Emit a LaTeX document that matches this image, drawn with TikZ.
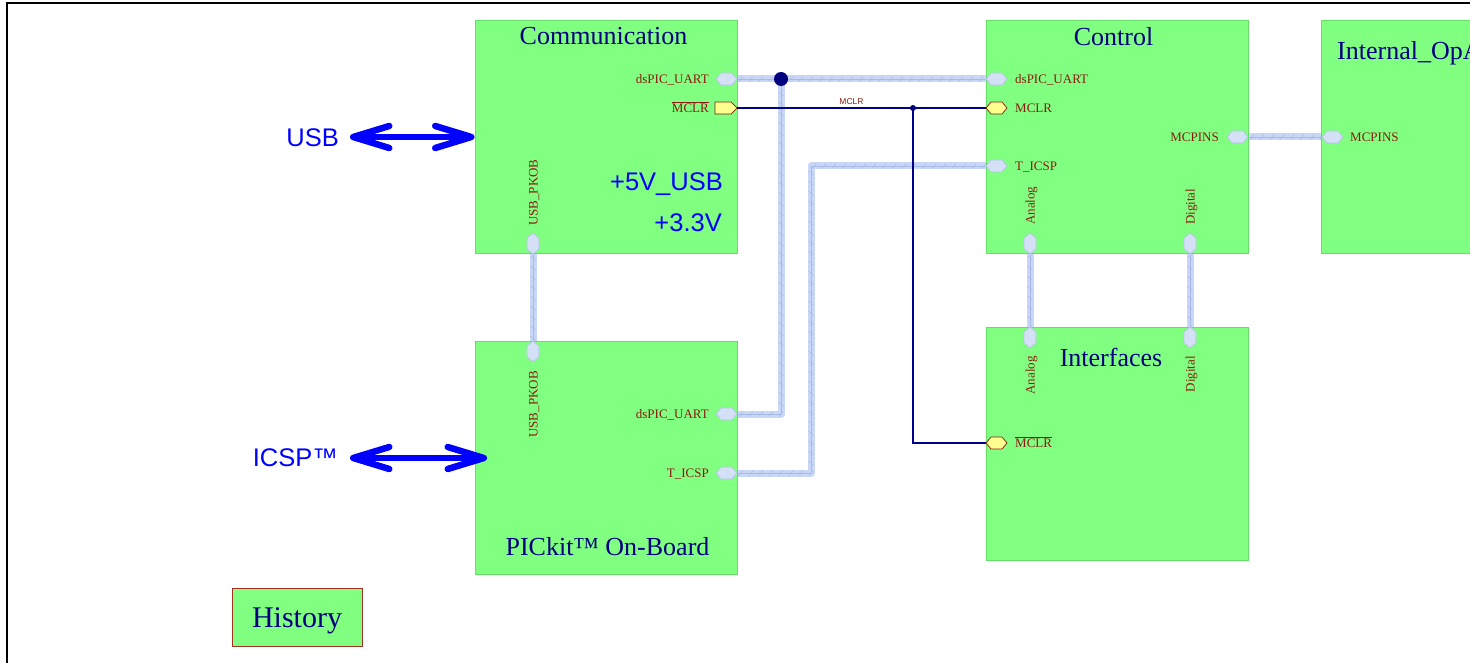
\documentclass[tikz,border=0pt]{standalone}
\usepackage{fontspec}
\setmainfont{Liberation Serif}
\newfontfamily\arial{Liberation Sans}
\usetikzlibrary{arrows.meta,decorations.markings,backgrounds}
\definecolor{boxfill}{HTML}{80FF80}
\definecolor{boxline}{HTML}{66DD66}
\definecolor{navy}{HTML}{00007F}
\definecolor{lblred}{HTML}{8B1A10}
\definecolor{busblue}{HTML}{C8D7F7}
\definecolor{hatchblue}{HTML}{A8BBE6}
\definecolor{portfill}{HTML}{D4E0F6}
\definecolor{portline}{HTML}{B4C4E4}
\definecolor{yelfill}{HTML}{FFFF90}
\definecolor{wirenavy}{HTML}{00008B}
\definecolor{sigblue}{HTML}{0000FF}
\definecolor{histline}{HTML}{A03020}
\tikzset{
  blk/.style={draw=boxline, line width=1pt, fill=boxfill, minimum width=262pt, minimum height=233pt, inner sep=0pt},
  ttl/.style={text=navy, font=\fontsize{26}{28}\selectfont, inner sep=0pt},
  plbl/.style={text=lblred, font=\fontsize{13}{14}\selectfont, inner sep=0pt},
  sigtxt/.style={text=sigblue, font=\arial\fontsize{25.5}{27}\selectfont, inner sep=0pt},
  portbox/.style={inner sep=0pt, outer sep=0pt},
  blueport/.style={draw=portline, fill=portfill, line width=0.7pt, line join=round},
  yelport/.style={draw=lblred, fill=yelfill, line width=0.7pt, line join=round},
  bus/.style={line width=7pt, draw=busblue, line join=round,
    postaction={decorate, decoration={markings,
      mark=between positions 4pt and 1 step 10pt with {\draw[hatchblue, line width=0.5pt] (-2pt,-2.5pt) -- (2pt,2.5pt);}}},
    postaction={draw=hatchblue, line width=0.4pt}},
  wire/.style={draw=wirenavy, line width=1.2pt},
  biarrow/.style={draw=sigblue, line width=6.5pt,
    {Straight Barb[length=36pt, width=22pt, line cap=round, line join=round]}-{Straight Barb[length=36pt, width=22pt, line cap=round, line join=round]}}
}
% horizontal hexagon port: name, position, style
\newcommand\hexporth[3]{%
  \node[portbox, minimum width=21pt, minimum height=12pt] (#1) at (#2) {};
  \draw[#3] (#1.west) -- ([xshift=5pt]#1.north west) -- ([xshift=-5pt]#1.north east) -- (#1.east)
    -- ([xshift=-5pt]#1.south east) -- ([xshift=5pt]#1.south west) -- cycle;}
% vertical hexagon port
\newcommand\hexportv[3]{%
  \node[portbox, minimum width=12pt, minimum height=21pt] (#1) at (#2) {};
  \draw[#3] (#1.north) -- ([yshift=-5pt]#1.north east) -- ([yshift=5pt]#1.south east) -- (#1.south)
    -- ([yshift=5pt]#1.south west) -- ([yshift=-5pt]#1.north west) -- cycle;}
% output (pentagon) port
\newcommand\outport[3]{%
  \node[portbox, minimum width=22pt, minimum height=12pt] (#1) at (#2) {};
  \draw[#3] (#1.north west) -- ([xshift=-6pt]#1.north east) -- (#1.east)
    -- ([xshift=-6pt]#1.south east) -- (#1.south west) -- cycle;}
\begin{document}
\begin{tikzpicture}[x=1pt,y=-1pt]
\useasboundingbox (0,0) rectangle (1470,663);
\clip (0,0) rectangle (1470,663);
\draw[line width=2pt] (7,663) -- (7,3) -- (1470,3);

% blocks
\node[blk] (comm) at (606,137.5) {};
\node[blk] (pk) at (606,457.5) {};
\node[blk] (ctrl) at (1117,137.5) {};
\node[blk] (iop) at (1452,137.5) {};
\node[blk] (intf) at (1117,443.5) {};
\node[draw=histline, line width=1pt, fill=boxfill, minimum width=130pt, minimum height=58pt, inner sep=0pt] (hist) at (297,617) {};

% titles
\node[ttl] (tcomm) at (603.5,36) {Communication};
\node[ttl] (tctrl) at (1113.5,36.5) {Control};
\node[ttl, anchor=base west] (tiop) at (1337,60) {Internal\_OpA};
\node[ttl] (tintf) at (1111,357) {Interfaces};
\node[ttl] (tpk) at (607.5,546.5) {PICkit™ On-Board};
\node[text=navy, font=\fontsize{30}{32}\selectfont, inner sep=0pt, anchor=base] (thist) at (297,627) {History};

% signal texts
\node[sigtxt, anchor=east] (tusb) at (339,137.5) {USB};
\node[sigtxt, anchor=east] (ticsp) at (338,458) {ICSP™};
\node[sigtxt, anchor=base east] (t5v) at (723,191) {+5V\_USB};
\node[sigtxt, anchor=base east] (t33) at (722,232) {+3.3V};

% junction coordinates
\coordinate (J) at (781,79);
\coordinate (tb) at (811,473);
\coordinate (M) at (913,108);
\coordinate (usbend) at (350,137);
\coordinate (icspend) at (350,458);
\coordinate (icsptip) at (487,458);

% ports
\hexporth{cuart}{726.5,79}{blueport}
\outport{cmclr}{726,108}{yelport}
\hexportv{cusb}{533,243.5}{blueport}
\hexporth{puart}{726.5,414}{blueport}
\hexporth{picsp}{726.5,473}{blueport}
\hexportv{pusb}{533,351.5}{blueport}
\hexporth{kuart}{996.5,79}{blueport}
\hexporth{kmclr}{996.5,108}{yelport}
\hexporth{kicsp}{996.5,166}{blueport}
\hexporth{kpins}{1237.5,137}{blueport}
\hexportv{kana}{1030,243.5}{blueport}
\hexportv{kdig}{1190,243.5}{blueport}
\hexporth{ipins}{1332.5,137}{blueport}
\hexportv{fana}{1030,337.5}{blueport}
\hexportv{fdig}{1190,337.5}{blueport}
\hexporth{fmclr}{996.5,443}{yelport}

% port labels
\node[plbl, anchor=base east] at (709,83.5) {dsPIC\_UART};
\node[plbl, anchor=base east] at (709,112.5) {$\overline{\hbox{MCLR}}$};
\node[plbl, anchor=base west, rotate=90] at (537.5,226) {USB\_PKOB};
\node[plbl, anchor=base east, rotate=90] at (537.5,371) {USB\_PKOB};
\node[plbl, anchor=base east] at (709,418.5) {dsPIC\_UART};
\node[plbl, anchor=base east] at (709,477.5) {T\_ICSP};
\node[plbl, anchor=base west] at (1015,83.5) {dsPIC\_UART};
\node[plbl, anchor=base west] at (1015,112.5) {MCLR};
\node[plbl, anchor=base west] at (1015,170.5) {T\_ICSP};
\node[plbl, anchor=base east] at (1219,141.5) {MCPINS};
\node[plbl, anchor=base west, rotate=90] at (1034.5,225) {Analog};
\node[plbl, anchor=base west, rotate=90] at (1194.5,225) {Digital};
\node[plbl, anchor=base west] at (1350,141.5) {MCPINS};
\node[plbl, anchor=base east, rotate=90] at (1034.5,356) {Analog};
\node[plbl, anchor=base east, rotate=90] at (1194.5,356) {Digital};
\node[plbl, anchor=base west] at (1015,447.5) {$\overline{\hbox{MCLR}}$};

% buses (drawn under the ports)
\begin{pgfonlayer}{background}
\draw[bus] (cuart.east) -- (kuart.west);
\draw[bus] (puart.east) -| (J);
\draw[bus] (picsp.east) -- (tb) |- (kicsp.west);
\draw[bus] (kpins.east) -- (ipins.west);
\draw[bus] (cusb.south) -- (pusb.north);
\draw[bus] (kana.south) -- (fana.north);
\draw[bus] (kdig.south) -- (fdig.north);
\end{pgfonlayer}

% wires
\draw[wire] (cmclr.east) -- (kmclr.west);
\draw[wire] (M) |- (fmclr.west);
\node[text=lblred, font=\arial\fontsize{8.5}{9}\selectfont, inner sep=0pt] (wlbl) at (851.5,102) {MCLR};

% junction dots
\fill[navy] (J) circle (7pt);
\fill[navy] (M) circle (3pt);

% arrows
\draw[biarrow] (usbend) -- (usbend -| comm.west);
\draw[biarrow] (icspend) -- (icsptip);
\end{tikzpicture}
\end{document}
